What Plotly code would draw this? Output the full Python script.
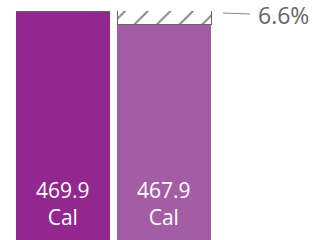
import plotly.graph_objects as go

categories = ["A", "B"]
solid_values = [100.0, 94.3]
hatch_values = [0.0, 6.1]
bar_labels = ["469.9<br>Cal", "467.9<br>Cal"]
hatch_label = "6.6%"
solid_colors = ["#92278F", "#A45DA4"]

fig = go.Figure()
fig.add_trace(go.Bar(
    x=categories, y=solid_values,
    marker=dict(color=solid_colors, line=dict(width=0)),
    width=0.93, hoverinfo="skip",
))
fig.add_trace(go.Bar(
    x=categories, y=hatch_values,
    marker=dict(color="white", line=dict(color="#666666", width=1),
                pattern=dict(shape="/", fgcolor="#111111", bgcolor="white",
                             size=16, solidity=0.12)),
    width=0.93, hoverinfo="skip",
))

lab_font = dict(color="white", size=21, family="Open Sans")
for cat, lab in zip(categories, bar_labels):
    fig.add_annotation(x=cat, y=0, xref="x", yref="y", text=lab, showarrow=False,
                       yanchor="bottom", yshift=7, font=lab_font)

fig.add_annotation(
    x=(223 - 12) / 203, xref="paper", y=99.1, yref="y",
    text=hatch_label, showarrow=True, arrowhead=0, arrowwidth=1,
    arrowcolor="#888888", ax=60, ay=2, xanchor="center",
    startstandoff=7,
    font=dict(color="#666666", size=23, family="Open Sans"), borderpad=0,
)

fig.update_layout(
    barmode="stack",
    width=317, height=240,
    margin=dict(l=12, r=102, t=11, b=0),
    paper_bgcolor="white", plot_bgcolor="white",
    showlegend=False,
    xaxis=dict(visible=False, range=[-0.5, 1.5]),
    yaxis=dict(visible=False, range=[0, 100]),
)

fig.write_html("out.html", config={"displayModeBar": False, "staticPlot": True},
               post_script="document.body.style.margin='0';document.body.style.overflow='hidden';")
